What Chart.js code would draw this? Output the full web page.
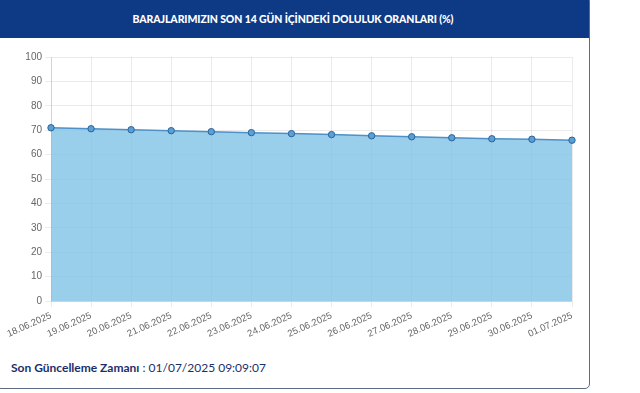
<!DOCTYPE html>
<html>
<head>
<meta charset="utf-8">
<script src="https://cdn.jsdelivr.net/npm/chart.js@4.4.0/dist/chart.umd.min.js"></script>
<style>
	html, body { margin: 0; padding: 0; background: #fff; }
	body { width: 640px; height: 393px; position: relative; overflow: hidden; font-family: Lato, "Noto Sans", sans-serif; }
	#kart { position: absolute; left: -4px; top: -4px; width: 594px; height: 393px; border: 1px solid #5b6b80; border-radius: 5px; box-sizing: border-box; overflow: hidden; }
	#baslik { position: absolute; left: 0; top: 0; right: 0; height: 41px; background: #0e3a85; color: #fff; font-weight: 900; font-size: 10.5px; text-align: center; line-height: 44px; letter-spacing: -0.1px; }
	#grafik { position: absolute; left: 0; top: 37px; width: 582px; height: 300px; }
	#guncelleme { position: absolute; left: 11px; top: 360px; font-size: 12px; color: #1b2f6b; }
	#guncelleme b { font-weight: 700; }
</style>
</head>
<body>
<div id="kart"><div id="baslik">BARAJLARIMIZIN SON 14 GÜN İÇİNDEKİ DOLULUK ORANLARI (%)</div></div>
<div id="grafik"><canvas id="doluluk-chart"></canvas></div>
<div id="guncelleme"><b>Son Güncelleme Zamanı</b> : 01/07/2025 09:09:07</div>
<script>
var tarihler = ['18.06.2025', '19.06.2025', '20.06.2025', '21.06.2025', '22.06.2025', '23.06.2025', '24.06.2025',
	'25.06.2025', '26.06.2025', '27.06.2025', '28.06.2025', '29.06.2025', '30.06.2025', '01.07.2025'];
var oranlar = [71.0, 70.6, 70.2, 69.8, 69.4, 69.0, 68.6, 68.2, 67.7, 67.3, 66.9, 66.5, 66.3, 65.9];
var yuzdeler = [0, 10, 20, 30, 40, 50, 60, 70, 80, 90, 100];

new Chart(document.getElementById('doluluk-chart').getContext('2d'), {
	type: 'line',
	data: {
		labels: tarihler,
		datasets: [{
			label: 'Doluluk',
			data: oranlar,
			fill: true,
			backgroundColor: 'rgba(125, 193, 231, 0.78)',
			borderColor: '#4f90c8',
			borderWidth: 1.5,
			pointRadius: 3.2,
			pointBackgroundColor: '#5a9fd6',
			pointBorderColor: '#2a6399',
			pointBorderWidth: 1,
			tension: 0
		}]
	},
	options: {
		responsive: true,
		maintainAspectRatio: false,
		animation: false,
		layout: { padding: { left: 0, right: 10, top: 20, bottom: 0 } },
		plugins: { legend: { display: false }, tooltip: { enabled: false } },
		scales: {
			x: {
				offset: false,
				grid: { color: 'rgba(0,0,0,0.08)', tickLength: 6 },
				ticks: { color: '#666', font: { family: 'Liberation Sans', size: 9.5 }, minRotation: 24, maxRotation: 24, autoSkip: false },
				afterFit: function (scale) { scale.height = 36; }
			},
			y: {
				min: yuzdeler[0],
				max: yuzdeler[yuzdeler.length - 1],
				afterBuildTicks: function (scale) {
					scale.ticks = yuzdeler.map(function (v) { return { value: v }; });
				},
				grid: { color: 'rgba(0,0,0,0.08)', tickLength: 6 },
				ticks: { color: '#666', font: { family: 'Liberation Sans', size: 10 } },
				afterFit: function (scale) { scale.width = 51; }
			}
		}
	}
});
</script>
</body>
</html>
